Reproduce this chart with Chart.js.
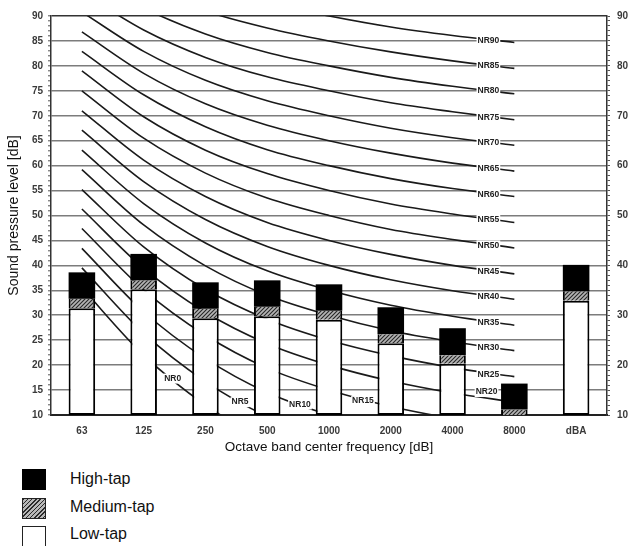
<!DOCTYPE html>
<html>
<head>
<meta charset="utf-8">
<script src="https://cdn.jsdelivr.net/npm/chart.js@4.4.1/dist/chart.umd.min.js"></script>
<style>
	body { margin: 0; background: #fff; width: 635px; height: 546px; overflow: hidden; position: relative; font-family: Arial, "Liberation Sans", sans-serif; }
	#wrap { position: absolute; left: 0; top: 0; width: 635px; height: 455px; }
	.box { position: absolute; left: 22px; width: 24px; height: 21px; box-sizing: border-box; }
	.txt { position: absolute; left: 70px; font-size: 16px; color: #111; line-height: 20px; }
	#boxHigh { top: 469px; background: #000; }
	#boxMed { top: 498px; border: 1px solid #222; background: repeating-linear-gradient(135deg, #2a2a2a 0 1px, #b8b8b8 1px 3px); }
	#boxLow { top: 526px; height: 26px; border: 1.5px solid #222; background: #fff; }
</style>
</head>
<body>
<div id="wrap"><canvas id="myChart"></canvas></div>
<div class="box" id="boxHigh"></div><div class="txt" style="top:469px">High-tap</div>
<div class="box" id="boxMed"></div><div class="txt" style="top:497px">Medium-tap</div>
<div class="box" id="boxLow"></div><div class="txt" style="top:524px">Low-tap</div>
<script>
// bar data (tops of each part, bars start at 10 dB)
var categories = ['63', '125', '250', '500', '1000', '2000', '4000', '8000', 'dBA'];
var baseLevel = 10;
var lowTap = [31.4, 35.2, 29.4, 29.8, 29.1, 24.4, 20.3, 10, 32.9];
var mediumTap = [33.3, 37.0, 31.3, 31.7, 30.9, 26.2, 22.0, 11.1, 34.8];
var highTap = [38.6, 42.3, 36.6, 37.0, 36.2, 31.6, 27.4, 16.3, 40.1];

// NR curves, 63 .. 8000 Hz (nothing at dBA)
var nrNames = ['NR0', 'NR5', 'NR10', 'NR15', 'NR20', 'NR25', 'NR30', 'NR35', 'NR40', 'NR45',
	'NR50', 'NR55', 'NR60', 'NR65', 'NR70', 'NR75', 'NR80', 'NR85', 'NR90'];
var nrCurves = [
	[35.5, 22.0, 12.0, 4.8, 0, -3.5, -6.1, -8.0, null],
	[39.5, 26.4, 16.7, 9.7, 5, 1.6, -1.0, -2.9, null],
	[43.4, 30.7, 21.3, 14.5, 10, 6.7, 4.2, 2.3, null],
	[47.4, 35.1, 26.0, 19.4, 15, 11.7, 9.3, 7.5, null],
	[51.3, 39.4, 30.6, 24.3, 20, 16.8, 14.4, 12.6, null],
	[55.2, 43.7, 35.2, 29.2, 25, 21.9, 19.5, 17.7, null],
	[59.2, 48.1, 39.9, 34.0, 30, 26.9, 24.7, 22.9, null],
	[63.1, 52.4, 44.5, 38.9, 35, 32.0, 29.8, 28.0, null],
	[67.1, 56.8, 49.2, 43.8, 40, 37.1, 34.9, 33.2, null],
	[71.0, 61.1, 53.8, 48.6, 45, 42.2, 40.0, 38.3, null],
	[75.0, 65.5, 58.5, 53.5, 50, 47.2, 45.2, 43.5, null],
	[79.0, 69.8, 63.1, 58.4, 55, 52.3, 50.3, 48.6, null],
	[82.9, 74.2, 67.8, 63.2, 60, 57.4, 55.4, 53.8, null],
	[86.8, 78.5, 72.4, 68.1, 65, 62.5, 60.5, 58.9, null],
	[90.8, 82.9, 77.1, 73.0, 70, 67.5, 65.6, 64.1, null],
	[94.7, 87.2, 81.7, 77.8, 75, 72.6, 70.8, 69.2, null],
	[98.7, 91.6, 86.4, 82.7, 80, 77.7, 75.9, 74.4, null],
	[102.6, 95.9, 91.0, 87.6, 85, 82.8, 81.0, 79.5, null],
	[106.6, 100.3, 95.7, 92.5, 90, 87.8, 86.1, 84.7, null]
];

// where each NR label sits along its curve (category index) and a small lift in px
var labelSpot = [1.47, 2.56, 3.53, 4.55, 6.55, 6.58, 6.58, 6.58, 6.58, 6.58,
	6.58, 6.58, 6.58, 6.58, 6.58, 6.58, 6.58, 6.58, 6.58];
var labelLift = [0, 1, 0, 2, -6, 2, 1, 1, 1, 1, 1, 1, 1, 1, 1, 1, 0, 0, 1];

var ctx = document.getElementById('myChart').getContext('2d');

// hatch pattern for medium-tap
var pc = document.createElement('canvas');
pc.width = 4; pc.height = 4;
var p = pc.getContext('2d');
p.fillStyle = '#b4b4b4';
p.fillRect(0, 0, 4, 4);
p.strokeStyle = '#262626';
p.lineWidth = 1.1;
p.beginPath();
p.moveTo(0, 4); p.lineTo(4, 0);
p.moveTo(-1, 1); p.lineTo(1, -1);
p.moveTo(3, 5); p.lineTo(5, 3);
p.stroke();
var hatch = ctx.createPattern(pc, 'repeat');

function span(from, to) { // floating bar pieces
	return to.map(function (v, i) { return [from[i], v]; });
}
var baseArr = categories.map(function () { return baseLevel; });

var datasets = [
	{ label: 'High-tap', data: span(mediumTap, highTap), backgroundColor: '#000', borderWidth: 0 },
	{ label: 'Medium-tap', data: span(lowTap, mediumTap), backgroundColor: hatch, borderColor: '#000', borderWidth: { left: 2, right: 2, top: 0, bottom: 0 }, borderSkipped: false },
	{ label: 'Low-tap', data: span(baseArr, lowTap), backgroundColor: '#fff', borderColor: '#000', borderWidth: 2, borderSkipped: false }
].map(function (d) {
	d.type = 'bar';
	d.grouped = false;
	d.barPercentage = 0.43;
	d.categoryPercentage = 1;
	d.order = 0;
	return d;
});

nrCurves.forEach(function (vals, i) {
	datasets.push({
		type: 'line',
		label: nrNames[i],
		data: vals,
		borderColor: '#1a1a1a',
		borderWidth: 1.6,
		pointRadius: 0,
		cubicInterpolationMode: 'monotone',
		capBezierPoints: false,
		clip: 0,
		order: 2
	});
});

var nrLabels = { // labels with white box on each curve
	id: 'nrLabels',
	afterDatasetsDraw: function (chart) {
		var c = chart.ctx, xs = chart.scales.x, ys = chart.scales.y;
		c.save();
		c.font = 'bold 8.5px Arial';
		c.textAlign = 'center';
		c.textBaseline = 'middle';
		nrCurves.forEach(function (vals, i) {
			var at = labelSpot[i], k = Math.floor(at), f = at - k;
			var v = vals[k] + (vals[k + 1] - vals[k]) * f;
			var px = xs.getPixelForValue(at), py = ys.getPixelForValue(v) + labelLift[i];
			var w = c.measureText(nrNames[i]).width + 2;
			c.fillStyle = '#fff';
			c.fillRect(px - w / 2, py - 5, w, 10);
			c.fillStyle = '#222';
			c.fillText(nrNames[i], px, py);
		});
		c.restore();
	}
};

var tickFont = { family: 'Arial', size: 10, weight: 'bold' };

var myChart = new Chart(ctx, {
	type: 'bar',
	data: { labels: categories, datasets: datasets },
	options: {
		responsive: true,
		maintainAspectRatio: false,
		animation: false,
		layout: { padding: { top: 16, left: 0, right: 0, bottom: 0 } },
		plugins: { legend: { display: false }, tooltip: { enabled: false } },
		scales: {
			x: {
				grid: { display: false, drawTicks: false },
				border: { display: true, color: '#222', width: 2 },
				ticks: { color: '#3a3a3a', font: tickFont, padding: 10 },
				title: { display: true, text: 'Octave band center frequency [dB]', color: '#111', font: { family: 'Arial', size: 13.5 }, padding: 0 },
				afterFit: function (s) { s.height = 40; }
			},
			y: {
				position: 'left',
				min: 10, max: 90,
				ticks: {
					stepSize: 1, autoSkip: false, maxTicksLimit: 100, color: '#3a3a3a', font: tickFont, padding: 5,
					callback: function (v) { return v % 5 === 0 ? v : ''; }
				},
				grid: {
					color: function (c) {
						var v = c.tick && c.tick.value;
						if (v === 90) return '#333';
						return v % 5 === 0 ? '#7c7c7c' : 'rgba(0,0,0,0)';
					},
					lineWidth: 1.6,
					tickColor: '#555', tickWidth: 1, tickLength: 3
				},
				border: { color: '#333', width: 1.5 },
				title: { display: true, text: 'Sound pressure level [dB]', color: '#111', font: { family: 'Arial', size: 14 }, padding: { top: 6, bottom: 0 } },
				afterFit: function (s) { s.width = 51; }
			},
			y2: {
				position: 'right',
				min: 10, max: 90,
				ticks: {
					stepSize: 1, autoSkip: false, maxTicksLimit: 100, color: '#3a3a3a', font: tickFont, padding: 7,
					callback: function (v) { return v % 10 === 0 ? v : ''; }
				},
				grid: { drawOnChartArea: false, tickColor: '#555', tickWidth: 1, tickLength: 3 },
				border: { color: '#333', width: 1.5 },
				afterFit: function (s) { s.width = 28; }
			}
		}
	},
	plugins: [nrLabels]
});
</script>
</body>
</html>
